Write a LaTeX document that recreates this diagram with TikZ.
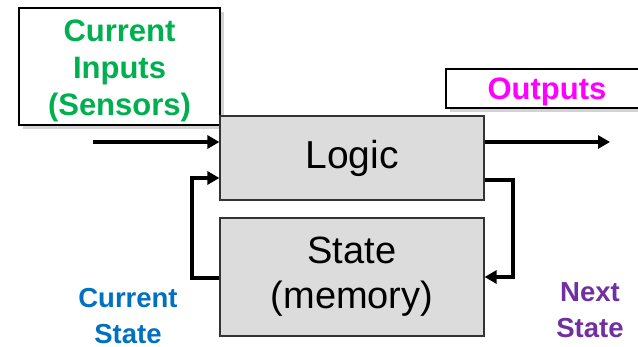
\documentclass[tikz,border=0pt]{standalone}
\usepackage{fontspec}
\setmainfont{Liberation Sans}
\usetikzlibrary{arrows.meta,shadows}
\definecolor{ingreen}{HTML}{00B050}
\definecolor{outmag}{HTML}{FF00FF}
\definecolor{curblue}{HTML}{0070C0}
\definecolor{nextpur}{HTML}{7030A0}
\definecolor{boxgray}{HTML}{DCDCDC}
\tikzset{
  labelbox/.style={draw=black, line width=2pt, fill=white, inner sep=0pt,
    drop shadow={shadow xshift=4pt, shadow yshift=-4pt, opacity=0.35}},
  blockbox/.style={draw=black!80, line width=1.2pt, fill=boxgray, inner sep=0pt, align=center},
  arr/.style={line width=3.3pt, -{Triangle[length=12pt,width=13pt]}},
  bigtext/.style={font=\fontsize{31}{37}\selectfont\bfseries, align=center},
  smalltext/.style={font=\fontsize{27.5}{36}\selectfont\bfseries, align=center}
}
\begin{document}
\begin{tikzpicture}[x=1pt,y=-1pt]
\path[use as bounding box] (0,0) rectangle (638,347);
% boxes
\node[labelbox, minimum width=201pt, minimum height=117pt] (inbox) at (119.5,66.5) {};
\node[bigtext, text=ingreen] (intext) at ([yshift=-4pt]inbox.center) {Current\\Inputs\\(Sensors)};
\node[labelbox, minimum width=202pt, minimum height=39pt] (outbox) at (547,88.5) {};
\node[bigtext, text=outmag] (outtext) at ([yshift=-3pt]outbox.center) {Outputs};
\node[blockbox, minimum width=264pt, minimum height=84pt, font=\fontsize{39}{46}\selectfont] (logic) at (352,158) {Logic};
\node[blockbox, minimum width=264pt, minimum height=118pt, font=\fontsize{38}{45}\selectfont] (state) at (352,277) {State\\(memory)};
% labels
\node[smalltext, text=curblue] (curstate) at (128,316) {Current\\State};
\node[smalltext, text=nextpur] (nextstate) at (590,310) {Next\\State};
% coordinates
\coordinate (inS) at (93,142);
\coordinate (outE) at (610,142);
\coordinate (lb) at (192,278);
\coordinate (lt) at (192,178);
\coordinate (rt) at (513,180);
\coordinate (rb) at (513,277);
% arrows
\draw[arr] (inS) -- (inS -| logic.west);
\draw[arr] (outE -| logic.east) -- (outE);
\draw[arr, line join=miter] (lb -| state.west) -- (lb) -- (lt) -- (lt -| logic.west);
\draw[arr, line join=miter] (rt -| logic.east) -- (rt) -- (rb) -- (rb -| state.east);
\end{tikzpicture}
\end{document}
